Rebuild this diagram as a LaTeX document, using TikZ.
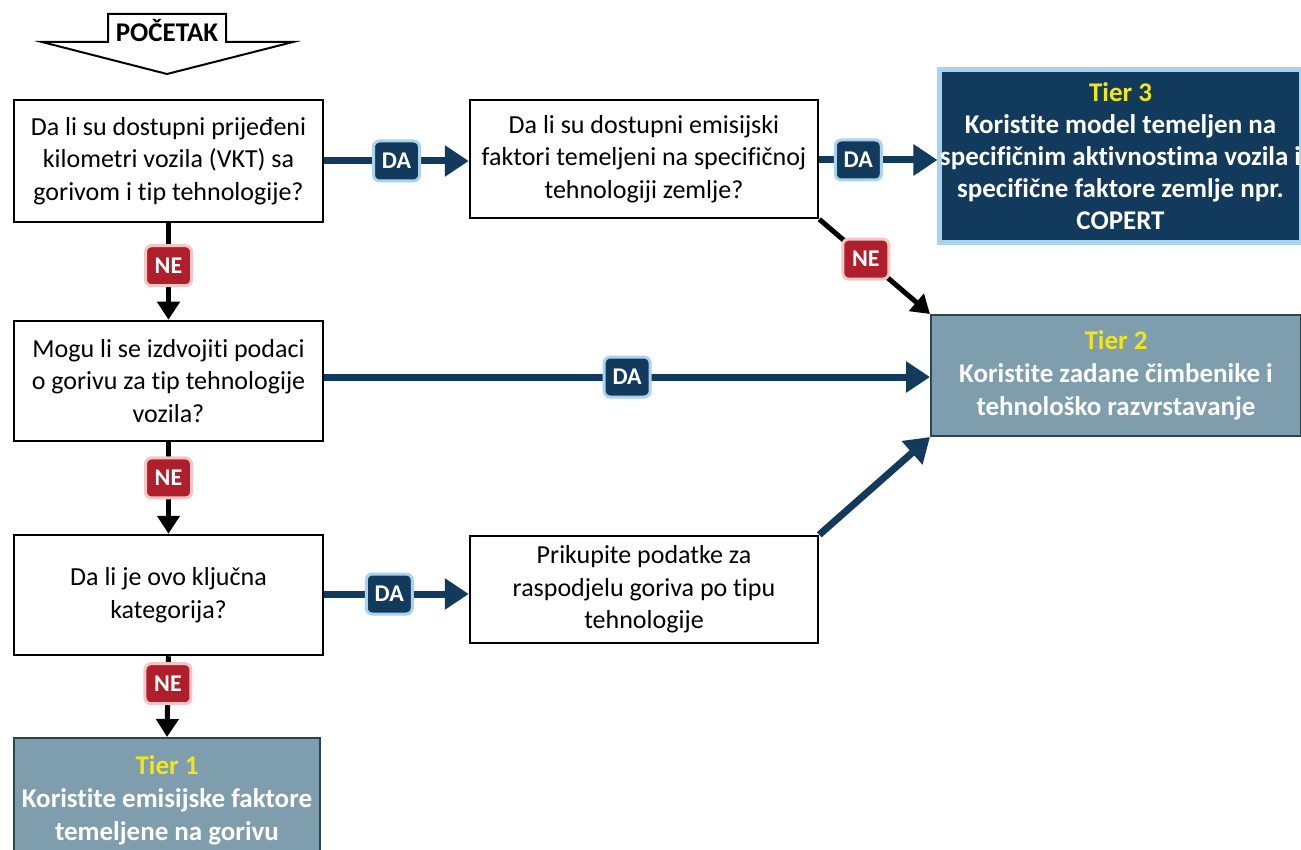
\documentclass[tikz,border=0pt]{standalone}
\usepackage{fontspec}
\setmainfont[Ligatures=NoCommon]{Carlito}
\usetikzlibrary{arrows.meta}
\definecolor{navy}{HTML}{123A5C}
\definecolor{glowblue}{HTML}{A9D2EE}
\definecolor{nered}{HTML}{B01E2B}
\definecolor{glowred}{HTML}{F2C6C4}
\definecolor{tiergray}{HTML}{7E9EAD}
\definecolor{tierborder}{HTML}{2E434E}
\definecolor{tieryellow}{HTML}{F2E51B}
\begin{document}
\begin{tikzpicture}[x=1pt,y=-1pt,
  qbox/.style={draw=black, line width=2.5pt, fill=white, align=center,
    font=\fontsize{26}{32.5}\selectfont, inner sep=0pt},
  tierbox/.style={fill=tiergray, draw=tierborder, line width=2pt, align=center,
    text=white, font=\bfseries\fontsize{27}{33}\selectfont, inner sep=0pt},
  t3box/.style={fill=navy, draw=glowblue, line width=5pt, align=center,
    text=white, font=\bfseries\fontsize{27}{32}\selectfont, inner sep=0pt},
  dabadge/.style={fill=navy, draw=glowblue, line width=3pt, rounded corners=6pt,
    minimum width=46pt, minimum height=40pt, inner sep=0pt, text=white,
    font=\bfseries\fontsize{24}{26}\selectfont},
  nebadge/.style={fill=nered, draw=glowred, line width=3pt, rounded corners=6pt,
    minimum width=46pt, minimum height=40pt, inner sep=0pt, text=white,
    font=\bfseries\fontsize{24}{26}\selectfont},
  conn/.style={draw=navy, line width=7pt, -{Triangle[length=24pt,width=30pt]}},
  neconn/.style={draw=black, line width=5pt, -{Triangle[length=18pt,width=22pt]}},
  startarrow/.style={draw=black, line width=2pt, fill=white, line join=miter}
]
\useasboundingbox (0,0) rectangle (1301,850);

% start arrow
\draw[startarrow] (42,42) -- (108,42) -- (108,14) -- (226,14) -- (226,42) -- (293,42) -- (167,74) -- cycle;
\node[font=\bfseries\fontsize{27}{30}\selectfont, inner sep=0pt] (start) at (167,30) {POČETAK};

% boxes
\node[qbox, minimum width=309pt, minimum height=122pt] (q1) at (168.5,161)
  {Da li su dostupni prijeđeni\\kilometri vozila (VKT) sa\\gorivom i tip tehnologije?};
\node[qbox, minimum width=348pt, minimum height=118pt] (q2) at (644,159)
  {Da li su dostupni emisijski\\faktori temeljeni na specifičnoj\\tehnologiji zemlje?};
\node[t3box, minimum width=357pt, minimum height=173pt] (t3) at (1120.5,156.5)
  {\textcolor{tieryellow}{Tier 3}\\Koristite model temeljen na\\specifičnim aktivnostima vozila i\\specifične faktore zemlje npr.\\COPERT};
\node[tierbox, minimum width=370pt, minimum height=121pt] (t2) at (1116,375.5)
  {\textcolor{tieryellow}{Tier 2}\\Koristite zadane čimbenike i\\tehnološko razvrstavanje};
\node[qbox, minimum width=309pt, minimum height=120pt] (q3) at (168.5,381)
  {Mogu li se izdvojiti podaci\\o gorivu za tip tehnologije\\vozila?};
\node[qbox, minimum width=309pt, minimum height=120pt] (q4) at (168.5,595)
  {Da li je ovo ključna\\kategorija?};
\node[qbox, minimum width=348pt, minimum height=107pt] (p5) at (644,589.5)
  {Prikupite podatke za\\raspodjelu goriva po tipu\\tehnologije};
\node[tierbox, minimum width=306pt, minimum height=124pt] (t1) at (167,800)
  {\textcolor{tieryellow}{Tier 1}\\Koristite emisijske faktore\\temeljene na gorivu};

% connectors
\draw[conn] (q1.east |- 0,161) -- (q2.west |- 0,161) node[dabadge, pos=0.5] (da1) {DA};
\draw[conn] (q2.east |- 0,160) -- (t3.west |- 0,160) node[dabadge, pos=0.33] (da2) {DA};
\draw[conn] (q3.east |- 0,377) -- (t2.west |- 0,377) node[dabadge, pos=0.5] (da3) {DA};
\draw[conn] (q4.east |- 0,594) -- (p5.west |- 0,594) node[dabadge, pos=0.45] (da4) {DA};
\draw[conn] (p5.north east) -- (t2.south west);
\draw[neconn] (q2.south east) -- (t2.north west) node[nebadge, pos=0.42] (ne4) {NE};
\draw[neconn] (q1.south) -- (q3.north) node[nebadge, pos=0.44] (ne1) {NE};
\draw[neconn] (q3.south) -- (q4.north) node[nebadge, pos=0.39] (ne2) {NE};
\draw[neconn] (q4.south) -- (t1.north) node[nebadge, pos=0.34] (ne3) {NE};
\end{tikzpicture}
\end{document}
